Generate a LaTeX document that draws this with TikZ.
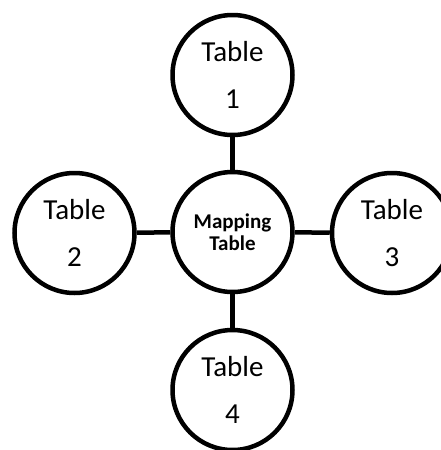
\documentclass[tikz,border=0pt]{standalone}
\usepackage{fontspec}
\setmainfont{Carlito}
\usepackage{tikz}

\begin{document}
\begin{tikzpicture}[x=1pt,y=-1pt,
    tbl/.style={draw,circle,line width=4.5pt,minimum size=120pt,inner sep=0pt,align=center,
        font=\fontsize{29}{47}\selectfont},
    hub/.style={tbl,font=\fontsize{21}{22}\selectfont\bfseries},
    link/.style={line width=4.5pt}]
    \useasboundingbox (0,0) rectangle (441,450);

    \node[hub] at (232.5,232) (map) {Mapping\\Table};

    \node[tbl] at (232.5,75) (t1) {Table\\1};
    \node[tbl] at (74.5,233) (t2) {Table\\2};
    \node[tbl] at (392,233) (t3) {Table\\3};
    \node[tbl] at (232.5,390) (t4) {Table\\4};

    \draw[link] (map)--(t1);
    \draw[link] (map)--(t2);
    \draw[link] (map)--(t3);
    \draw[link] (map)--(t4);
\end{tikzpicture}
\end{document}
